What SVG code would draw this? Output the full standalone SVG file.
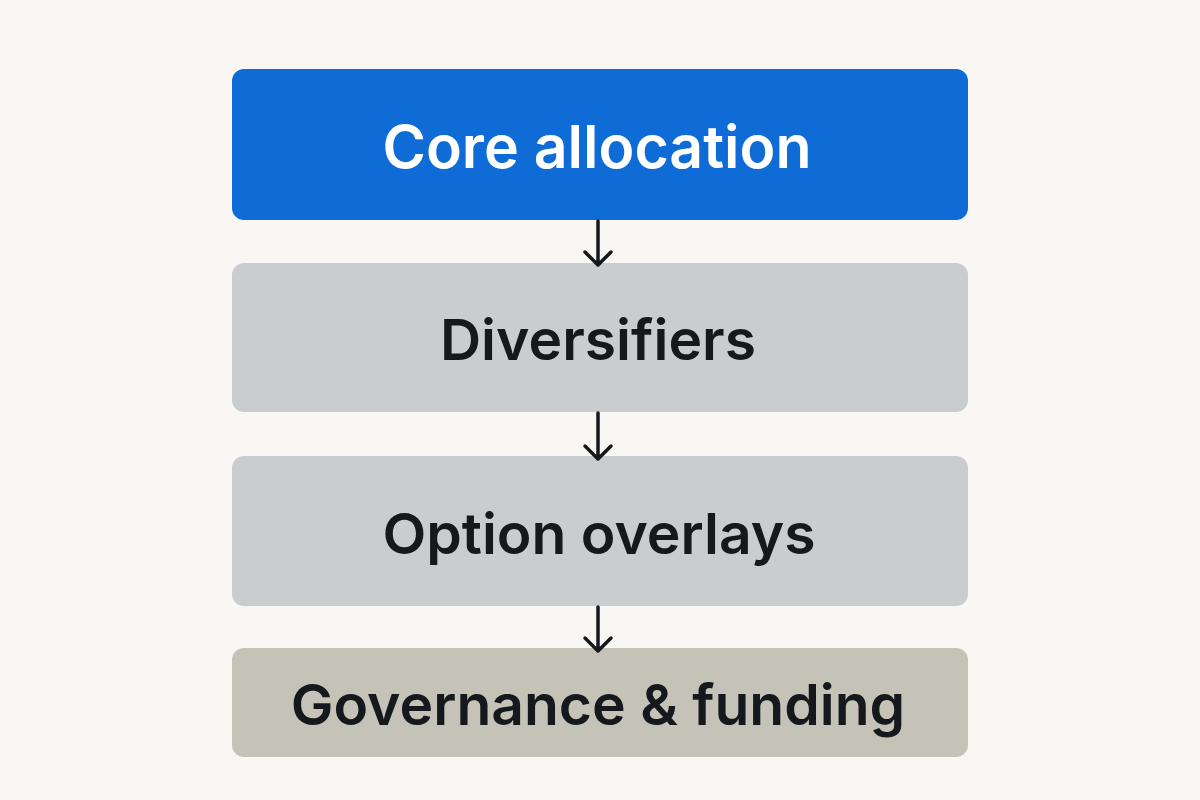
<svg xmlns="http://www.w3.org/2000/svg" width="1200" height="800" viewBox="0 0 1200 800">
<style>
.t{font-family:"Inter","Noto Sans",sans-serif;font-weight:600;font-size:57px;text-anchor:middle;dominant-baseline:central;fill:#15191d}
.c{fill:none;stroke:#15191d;stroke-width:3.5;stroke-linecap:round;stroke-linejoin:round}
</style>
<rect width="1200" height="800" fill="#f8f7f3"/>
<g id="core"><rect x="232" y="69" width="736" height="151" rx="12" fill="#0f6cd6"/><text class="t" x="597" y="146" style="fill:#fff;font-size:59px">Core allocation</text></g>
<g id="div"><rect x="232" y="263" width="736" height="149" rx="12" fill="#c9cdd0"/><text class="t" x="598" y="339">Diversifiers</text></g>
<g id="opt"><rect x="232" y="456" width="736" height="150" rx="12" fill="#c9cdd0"/><text class="t" x="599" y="533">Option overlays</text></g>
<g id="gov"><rect x="232" y="648" width="736" height="109" rx="12" fill="#c5c3b8"/><text class="t" x="598" y="704">Governance &amp; funding</text></g>
<g id="connectors">
<path class="c" d="M598 221V265M585 252L598 265L611 252"/>
<path class="c" d="M598 413V459M585 446L598 459L611 446"/>
<path class="c" d="M598 607V651M585 638L598 651L611 638"/>
</g>
</svg>
